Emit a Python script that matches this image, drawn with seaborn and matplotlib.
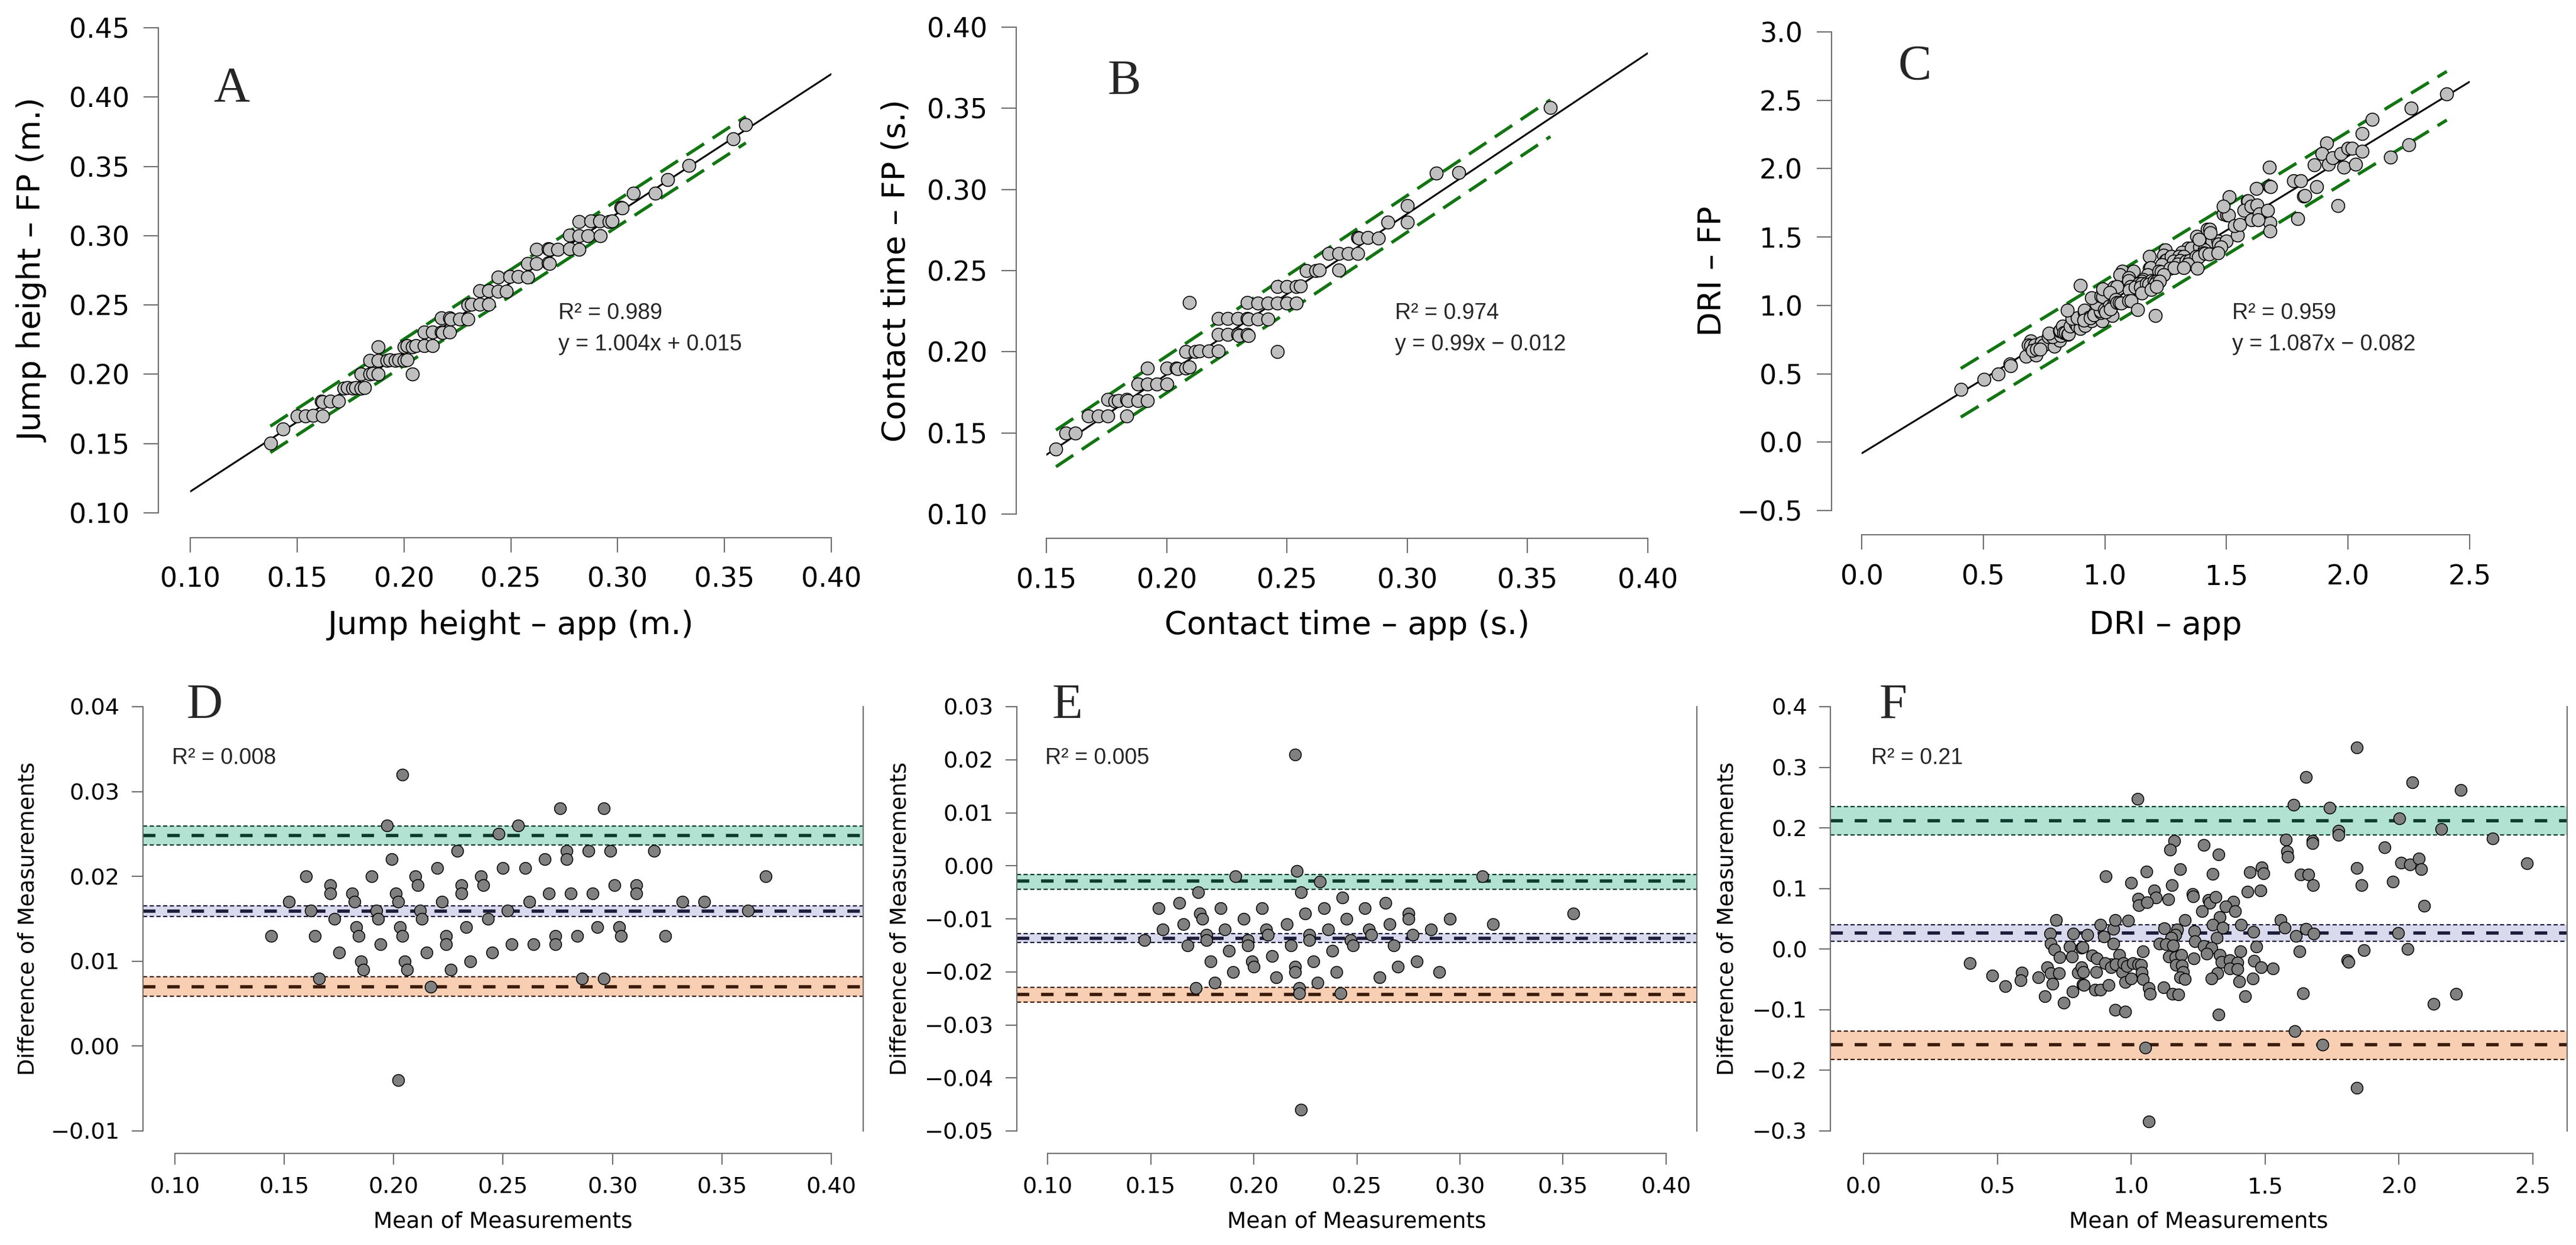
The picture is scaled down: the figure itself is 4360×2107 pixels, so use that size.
import numpy as np
import pandas as pd
import matplotlib
matplotlib.use("Agg")
import matplotlib.pyplot as plt
from matplotlib.ticker import FuncFormatter
import seaborn as sns

# ---------------- DATA ----------------
# Bland-Altman: jump height (mean of app & FP, difference FP - app)
jh_mean = [0.144, 0.152, 0.160, 0.162, 0.164, 0.166, 0.171, 0.171, 0.173, 0.175,
           0.181, 0.182, 0.183, 0.184, 0.185, 0.186, 0.190, 0.192, 0.193, 0.194,
           0.197, 0.199, 0.201, 0.202, 0.202, 0.203, 0.204, 0.204, 0.205, 0.206,
           0.210, 0.211, 0.212, 0.213, 0.215, 0.217, 0.220, 0.222, 0.224, 0.224,
           0.226, 0.229, 0.231, 0.231, 0.233, 0.235, 0.240, 0.241, 0.243, 0.245,
           0.248, 0.250, 0.252, 0.254, 0.257, 0.260, 0.262, 0.264, 0.269, 0.271,
           0.274, 0.274, 0.276, 0.279, 0.279, 0.281, 0.284, 0.286, 0.289, 0.291,
           0.293, 0.296, 0.296, 0.299, 0.301, 0.303, 0.304, 0.311, 0.311, 0.319,
           0.324, 0.332, 0.342, 0.362, 0.370]
jh_diff = [0.013, 0.017, 0.020, 0.016, 0.013, 0.008, 0.019, 0.018, 0.015, 0.011,
           0.018, 0.017, 0.014, 0.013, 0.010, 0.009, 0.020, 0.016, 0.015, 0.012,
           0.026, 0.022, 0.018, 0.017, -0.004, 0.014, 0.013, 0.032, 0.010, 0.009,
           0.020, 0.019, 0.016, 0.015, 0.011, 0.007, 0.021, 0.017, 0.013, 0.012,
           0.009, 0.023, 0.019, 0.018, 0.014, 0.010, 0.020, 0.019, 0.015, 0.011,
           0.025, 0.021, 0.016, 0.012, 0.026, 0.021, 0.017, 0.012, 0.022, 0.018,
           0.013, 0.012, 0.028, 0.023, 0.022, 0.018, 0.013, 0.008, 0.023, 0.018,
           0.014, 0.028, 0.008, 0.023, 0.019, 0.014, 0.013, 0.019, 0.018, 0.023,
           0.013, 0.017, 0.017, 0.016, 0.020]

# Bland-Altman: contact time
ct_mean = [0.147, 0.154, 0.156, 0.164, 0.166, 0.168, 0.172, 0.173, 0.174, 0.175,
           0.177, 0.177, 0.179, 0.181, 0.184, 0.186, 0.188, 0.190, 0.191, 0.195,
           0.197, 0.197, 0.199, 0.200, 0.204, 0.206, 0.207, 0.209, 0.211, 0.216,
           0.218, 0.220, 0.220, 0.220, 0.221, 0.222, 0.222, 0.223, 0.223, 0.225,
           0.227, 0.227, 0.229, 0.231, 0.232, 0.234, 0.236, 0.238, 0.240, 0.242,
           0.243, 0.245, 0.247, 0.248, 0.254, 0.256, 0.257, 0.261, 0.264, 0.266,
           0.268, 0.270, 0.275, 0.275, 0.277, 0.279, 0.286, 0.290, 0.295, 0.311,
           0.316, 0.355]
ct_diff = [-0.014, -0.008, -0.012, -0.007, -0.011, -0.015, -0.023, -0.005, -0.009, -0.010,
           -0.013, -0.014, -0.018, -0.022, -0.008, -0.012, -0.016, -0.020, -0.002, -0.010,
           -0.014, -0.015, -0.018, -0.019, -0.008, -0.012, -0.013, -0.017, -0.021, -0.011,
           -0.015, 0.021, -0.019, -0.020, -0.001, -0.023, -0.024, -0.005, -0.046, -0.009,
           -0.013, -0.014, -0.018, -0.022, -0.003, -0.008, -0.012, -0.016, -0.020, -0.024,
           -0.006, -0.010, -0.014, -0.015, -0.008, -0.012, -0.013, -0.021, -0.007, -0.011,
           -0.015, -0.019, -0.009, -0.010, -0.013, -0.018, -0.012, -0.020, -0.010, -0.002,
           -0.011, -0.009]

# Bland-Altman: DRI
dri_mean = [0.396, 0.480, 0.530, 0.591, 0.586, 0.653, 0.677, 0.718, 0.697, 0.699,
            0.712, 0.733, 0.686, 0.699, 0.729, 0.706, 0.747, 0.780, 0.769, 0.778,
            0.784, 0.800, 0.814, 0.818, 0.837, 0.815, 0.820, 0.818, 0.822, 0.853,
            0.872, 0.868, 0.865, 0.885, 0.885, 0.898, 0.905, 0.916, 0.939, 0.978,
            0.934, 0.933, 0.940, 0.955, 0.924, 0.903, 0.925, 0.943, 0.966, 0.970,
            0.988, 0.999, 1.025, 1.028, 0.984, 1.006, 1.025, 0.977, 0.999,
            1.161, 1.144, 1.270, 1.326, 1.056, 1.183, 1.304, 1.151, 1.086, 1.093,
            1.058, 1.139, 1.228, 1.231, 1.289, 1.292, 1.315, 1.380, 1.353, 1.387,
            1.265, 1.330, 1.201, 1.122, 1.172, 1.164, 1.150, 1.236, 1.304, 1.341,
            1.319, 1.409, 1.456, 1.106, 1.130, 1.155, 1.238, 1.271, 1.300, 1.281,
            1.043, 1.468, 1.407, 1.140, 1.164, 1.186, 1.233, 1.330, 1.337, 1.367,
            1.396, 1.459, 1.484, 1.528, 1.368, 1.396, 1.168, 1.189, 1.194, 1.183,
            1.200, 1.036, 1.039, 1.043, 1.321, 1.299, 1.403, 1.453, 1.120, 1.065,
            1.071, 1.153, 1.175, 1.425, 1.642, 1.326, 1.611, 1.578, 1.581, 1.584,
            1.676, 1.676, 1.442, 1.488, 1.493, 1.633, 1.662, 1.679, 1.434, 1.482,
            1.558, 1.573, 1.615, 1.652, 1.681, 1.628,
            1.023, 1.652, 1.843, 2.050, 2.231, 1.606, 1.740, 2.001, 1.773, 1.775,
            2.157, 2.350, 1.945, 1.843, 1.859, 1.976, 2.007, 2.040, 2.075, 2.083,
            2.093, 2.477, 1.997, 2.032, 1.869, 1.808, 1.812, 2.130, 2.212, 1.715,
            1.843, 1.052, 1.066]
dri_diff = [-0.023, -0.044, -0.061, -0.039, -0.051, -0.047, -0.078, 0.048, 0.026, 0.009,
            -0.001, -0.013, -0.030, -0.040, -0.040, -0.057, -0.088, -0.070, 0.004, -0.012,
            0.026, -0.039, 0.002, 0.003, 0.024, -0.030, -0.038, -0.058, -0.059, -0.010,
            -0.015, -0.038, -0.067, -0.067, 0.040, 0.021, 0.120, -0.059, -0.100, -0.103,
            0.009, 0.033, 0.048, -0.009, -0.025, -0.023, -0.030, -0.025, -0.038, -0.023,
            0.047, 0.109, 0.083, 0.072, -0.028, -0.023, -0.025, -0.054, -0.048,
            0.179, 0.164, 0.172, 0.156, 0.128, 0.132, 0.124, 0.106, 0.097, 0.085,
            0.077, 0.082, 0.091, 0.087, 0.081, 0.076, 0.086, 0.078, 0.070, 0.063,
            0.063, 0.053, 0.048, 0.034, 0.032, 0.024, 0.019, 0.030, 0.040, 0.035,
            0.019, 0.040, 0.029, 0.009, 0.008, 0.006, 0.013, 0.005, 0.002, -0.008,
            -0.004, 0.004, -0.004, -0.012, -0.013, -0.009, -0.015, -0.009, -0.021, -0.018,
            -0.022, -0.019, -0.030, -0.032, -0.032, -0.033, -0.026, -0.027, -0.038, -0.047,
            -0.049, -0.026, -0.039, -0.049, -0.040, -0.048, -0.053, -0.048, -0.063, -0.064,
            -0.074, -0.074, -0.075, -0.078, -0.073, -0.108, -0.135, 0.181, 0.161, 0.152,
            0.179, 0.175, 0.127, 0.135, 0.125, 0.123, 0.123, 0.106, 0.095, 0.097,
            0.048, 0.035, 0.022, 0.033, 0.026, -0.004,
            0.248, 0.284, 0.333, 0.275, 0.263, 0.238, 0.233, 0.216, 0.195, 0.188,
            0.198, 0.183, 0.168, 0.134, 0.106, 0.111, 0.143, 0.140, 0.149, 0.132,
            0.071, 0.142, 0.027, 0.000, -0.002, -0.018, -0.021, -0.090, -0.074, -0.158,
            -0.229, -0.163, -0.284]

# Regression fits (slope, intercept) and prediction half-widths, as printed
fit_jh = (1.004, 0.015)
fit_ct = (0.99, -0.012)
fit_dri = (1.087, -0.082)
pi_half = {"jh": 0.0095, "ct": 0.0113, "dri": 0.178}

# Limits of agreement: (lower CI, estimate, upper CI) for upper LoA, bias, lower LoA
loa_jh = [(0.0237, 0.0248, 0.0259), (0.0153, 0.0159, 0.0165), (0.0059, 0.0070, 0.0082)]
loa_ct = [(-0.0044, -0.0029, -0.0016), (-0.0145, -0.0137, -0.0128), (-0.0257, -0.0243, -0.0229)]
loa_dri = [(0.188, 0.212, 0.235), (0.013, 0.027, 0.040), (-0.182, -0.158, -0.135)]

# Tick values
ticks_A_x = [0.10, 0.15, 0.20, 0.25, 0.30, 0.35, 0.40]
ticks_A_y = [0.10, 0.15, 0.20, 0.25, 0.30, 0.35, 0.40, 0.45]
ticks_B_x = [0.15, 0.20, 0.25, 0.30, 0.35, 0.40]
ticks_B_y = [0.10, 0.15, 0.20, 0.25, 0.30, 0.35, 0.40]
ticks_C_x = [0.0, 0.5, 1.0, 1.5, 2.0, 2.5]
ticks_C_y = [-0.5, 0.0, 0.5, 1.0, 1.5, 2.0, 2.5, 3.0]
ticks_D_x = [0.10, 0.15, 0.20, 0.25, 0.30, 0.35, 0.40]
ticks_D_y = [-0.01, 0.00, 0.01, 0.02, 0.03, 0.04]
ticks_E_x = [0.10, 0.15, 0.20, 0.25, 0.30, 0.35, 0.40]
ticks_E_y = [-0.05, -0.04, -0.03, -0.02, -0.01, 0.00, 0.01, 0.02, 0.03]
ticks_F_x = [0.0, 0.5, 1.0, 1.5, 2.0, 2.5]
ticks_F_y = [-0.3, -0.2, -0.1, 0.0, 0.1, 0.2, 0.3, 0.4]

# Paired observations (app, FP) recovered from the mean/difference pairs
def to_pairs(mean, diff):
    m = np.asarray(mean); d = np.asarray(diff)
    return m - d / 2, m + d / 2

jh_app, jh_fp = to_pairs(jh_mean, jh_diff)
ct_app, ct_fp = to_pairs(ct_mean, ct_diff)
dri_app, dri_fp = to_pairs(dri_mean, dri_diff)

# ---------------- STYLE ----------------
W, H = 4360, 2107
sns.set_theme(style="ticks")
plt.rcParams['font.family'] = ['DejaVu Sans']
plt.rcParams['axes.unicode_minus'] = True

SPINE = '#6e6e6e'
GREEN = '#127512'
FILLS = ['#b2e2d2', '#dadaee', '#f8cfb3']
DARKS = ['#0c3a2c', '#1c1b3a', '#3a1a0a']
PX = 0.72  # points per pixel at dpi 100

fig = plt.figure(figsize=(W / 100, H / 100), dpi=100)
fig.patch.set_facecolor('white')


def add_ax(l, t, r, b):
    return fig.add_axes([l / W, 1 - b / H, (r - l) / W, (b - t) / H])


def fmt(dec):
    return FuncFormatter(lambda v, p: f"{v:.{dec}f}".replace('-', '\u2212'))


def ftext(x, y, s, **kw):
    fig.text(x / W, 1 - y / H, s, **kw)


def style_axis(ax, box, xticks, yticks, dec_x, dec_y, tick_fs, tick_len, tick_pad,
               xlab, ylab, lab_fs, xlab_top, ylab_right):
    l, t, r, b = box
    ax.set_xticks(xticks)
    ax.set_yticks(yticks)
    ax.xaxis.set_major_formatter(fmt(dec_x))
    ax.yaxis.set_major_formatter(fmt(dec_y))
    ax.tick_params(axis='both', labelsize=tick_fs, length=tick_len * PX, pad=tick_pad * PX,
                   width=1.5, color=SPINE, labelcolor='black', direction='out')
    for sp in ax.spines.values():
        sp.set_color(SPINE)
        sp.set_linewidth(1.5)
    ax.set_xlabel(xlab, fontsize=lab_fs, color='black')
    ax.set_ylabel(ylab, fontsize=lab_fs, color='black')
    ax.xaxis.set_label_coords(((l + r) / 2 - l) / (r - l), (b - xlab_top) / (b - t))
    ax.yaxis.set_label_coords((ylab_right - l) / (r - l), (b - (t + b) / 2) / (b - t))
    ax.set_facecolor('white')


def scatter_panel(box, app, fp, fit, half, xticks, yticks, dec, xlab, ylab,
                  off_left, off_bottom, ylab_right, letter, letter_xy, r2, eq, text_x):
    ax = add_ax(*box)
    slope, icpt = fit
    xs = np.array([xticks[0], xticks[-1]])
    sns.lineplot(x=xs, y=slope * xs + icpt, color='black', linewidth=2.2, ax=ax, zorder=2)
    xr = np.array([np.min(app), np.max(app)])
    for s in (1, -1):
        ax.plot(xr, slope * xr + icpt + s * half, color=GREEN, linewidth=3.9,
                dashes=(6.5, 3.2), zorder=2, solid_capstyle='butt', dash_capstyle='butt')
    df = pd.DataFrame({'app': app, 'fp': fp})
    sns.scatterplot(data=df, x='app', y='fp', s=250, color='#bfbfbf', edgecolor='black',
                    linewidth=1.2, ax=ax, zorder=3)
    ax.set_xlim(xticks[0], xticks[-1])
    ax.set_ylim(yticks[0], yticks[-1])
    style_axis(ax, box, xticks, yticks, dec, dec, 33, 25, 24, xlab, ylab, 39, 1032, ylab_right)
    sns.despine(ax=ax, offset={'left': off_left * PX, 'bottom': off_bottom * PX}, trim=True)
    ftext(letter_xy[0], letter_xy[1], letter, ha='center', va='baseline', fontsize=61,
          family=['Liberation Serif', 'DejaVu Serif'])
    ftext(text_x, 540, r2, ha='left', va='baseline', fontsize=27,
          family=['Liberation Sans', 'DejaVu Sans'])
    ftext(text_x, 593, eq, ha='left', va='baseline', fontsize=27,
          family=['Liberation Sans', 'DejaVu Sans'])
    return ax


def ba_panel(box, mean, diff, loa, xlim, xticks, yticks, dec, ylab_right, letter, letter_x,
             r2, r2_x):
    ax = add_ax(*box)
    for (lo, c, hi), fill, dark in zip(loa, FILLS, DARKS):
        ax.axhspan(lo, hi, color=fill, linewidth=0, zorder=1)
        ax.axhline(c, color=dark, linewidth=4.0, dashes=(3.8, 3.6), zorder=2)
        for v in (lo, hi):
            ax.axhline(v, color=dark, linewidth=1.6, dashes=(3.2, 1.9), zorder=2)
    df = pd.DataFrame({'mean': mean, 'diff': diff})
    sns.scatterplot(data=df, x='mean', y='diff', s=205, color='#808080', edgecolor='black',
                    linewidth=1.1, ax=ax, zorder=3)
    ax.set_xlim(*xlim)
    ax.set_ylim(yticks[0], yticks[-1])
    style_axis(ax, box, xticks, yticks, dec, dec, 27.5, 19, 20, 'Mean of Measurements',
               'Difference of Measurements', 27, 2050, ylab_right)
    sns.despine(ax=ax, right=False, offset={'bottom': 38 * PX}, trim=True)
    ax.spines['right'].set_bounds(yticks[0], yticks[-1])
    ftext(letter_x, 1216, letter, ha='center', va='baseline', fontsize=61,
          family=['Liberation Serif', 'DejaVu Serif'])
    ftext(r2_x, 1293, r2, ha='left', va='baseline', fontsize=27,
          family=['Liberation Sans', 'DejaVu Sans'])
    return ax


# ---------------- TOP ROW ----------------
scatter_panel((322, 47, 1407, 868), jh_app, jh_fp, fit_jh, pi_half['jh'],
              ticks_A_x, ticks_A_y, 2, 'Jump height \u2013 app (m.)', 'Jump height \u2013 FP (m.)',
              54, 42, 82, 'A', (392, 172), 'R\u00b2 = 0.989', 'y = 1.004x + 0.015', 945)
scatter_panel((1771, 46, 2789, 870), ct_app, ct_fp, fit_ct, pi_half['ct'],
              ticks_B_x, ticks_B_y, 2, 'Contact time \u2013 app (s.)', 'Contact time \u2013 FP (s.)',
              51, 41, 1542, 'B', (1903, 160), 'R\u00b2 = 0.974', 'y = 0.99x \u2212 0.012', 2361)
scatter_panel((3151, 54, 4180, 864), dri_app, dri_fp, fit_dri, pi_half['dri'],
              ticks_C_x, ticks_C_y, 1, 'DRI \u2013 app', 'DRI \u2013 FP',
              51, 41, 2924, 'C', (3241, 135), 'R\u00b2 = 0.959', 'y = 1.087x \u2212 0.082', 3778)

# ---------------- BOTTOM ROW ----------------
ba_panel((242, 1196, 1461, 1914), jh_mean, jh_diff, loa_jh, (0.0854, 0.4146),
         ticks_D_x, ticks_D_y, 2, 65, 'D', 346, 'R\u00b2 = 0.008', 291)
ba_panel((1721, 1196, 2872, 1914), ct_mean, ct_diff, loa_ct, (0.0851, 0.4149),
         ticks_E_x, ticks_E_y, 2, 1542, 'E', 1806, 'R\u00b2 = 0.005', 1769)
ba_panel((3098, 1196, 4345, 1914), dri_mean, dri_diff, loa_dri, (-0.124, 2.628),
         ticks_F_x, ticks_F_y, 1, 2942, 'F', 3204, 'R\u00b2 = 0.21', 3167)

fig.savefig('out.png', dpi=100, facecolor='white')
